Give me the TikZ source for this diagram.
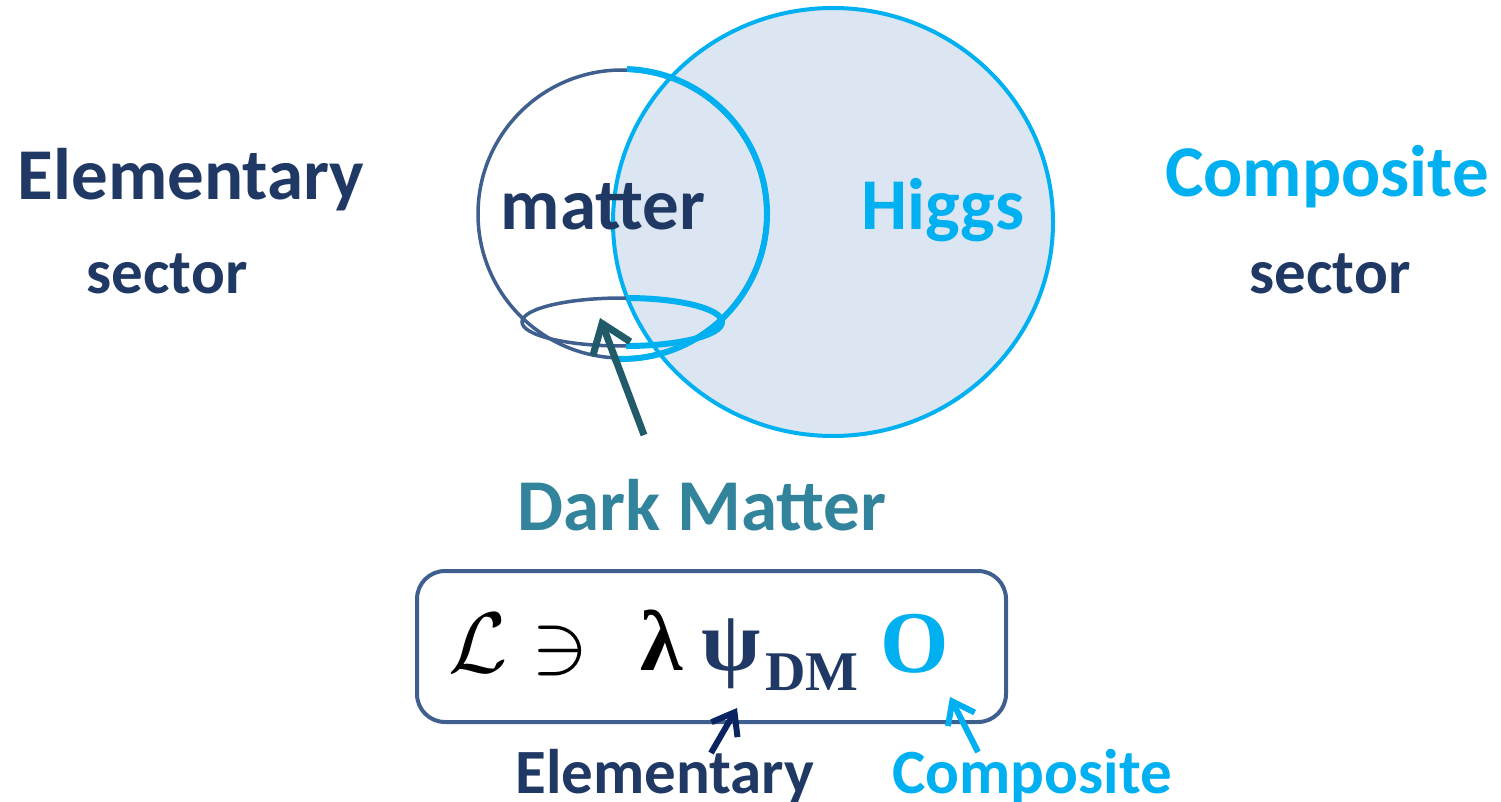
\documentclass[tikz,border=0pt]{standalone}
\usepackage{fontspec}
\setmainfont{Carlito}
\newfontfamily\timesfont{Liberation Serif}
\usepackage{tikz}
\usetikzlibrary{positioning, arrows.meta}
\definecolor{navy}{HTML}{1F3864}
\definecolor{skyblue}{HTML}{00B0F0}
\definecolor{rimblue}{HTML}{3F5F8F}
\definecolor{paleblue}{HTML}{DCE6F2}
\definecolor{darkteal}{HTML}{215A68}
\definecolor{dmteal}{HTML}{31849B}
\definecolor{deepnavy}{HTML}{0A2462}

\tikzset{
    bigword/.style={font=\fontsize{73}{80}\selectfont\bfseries, anchor=base, inner sep=0pt},
    smallword/.style={font=\fontsize{63}{70}\selectfont\bfseries, anchor=base, inner sep=0pt},
    formula/.style={anchor=base west, inner sep=0pt},
    pointer/.style={line width=6pt, -{Straight Barb[length=20pt, width=30pt, line width=6pt]}},
    bigpointer/.style={line width=7pt, -{Straight Barb[length=27pt, width=40pt, line width=7pt]}},
}

\begin{document}
\begin{tikzpicture}[x=1pt, y=1pt]
    \useasboundingbox (0,0) rectangle (1501,-802);

    % Big Higgs circle
    \draw[skyblue, fill=paleblue, line width=4pt] (833,-222) ellipse [x radius=220, y radius=214];

    % Small matter circle, thick cyan on the right half
    \draw[rimblue, line width=3.5pt] (622,-214) circle (144);
    \draw[skyblue, line width=6pt] (622,-214) ++(88:145) arc[start angle=88, end angle=-94, radius=145];

    % Dark matter ring at the bottom of the matter circle
    \draw[rimblue, line width=3.5pt] (622,-322) ellipse [x radius=100, y radius=24];
    \draw[skyblue, line width=6pt] (626,-322) ++(0,24) arc[start angle=90, end angle=-90, x radius=96, y radius=24];

    % Sector labels
    \node[bigword, navy] (elem) at (191,-200) {Elementary};
    \node[smallword, navy] (elemsec) at (167,-293) {sector};
    \node[bigword, skyblue] (comp) at (1327,-197) {Composite};
    \node[smallword, navy] (compsec) at (1330,-293) {sector};

    % Circle labels
    \node[bigword, navy] (matter) at (603,-230) {matter};
    \node[bigword, skyblue] (higgs) at (943,-230) {Higgs};
    \node[bigword, dmteal] (dm) at (702,-530) {Dark Matter};

    % Arrow to the ring
    \coordinate (dmtail) at (644,-435);
    \coordinate (ring) at (600,-318);
    \draw[darkteal, bigpointer] (dmtail) -- (ring);

    % Lagrangian box
    \draw[rimblue, line width=4pt, rounded corners=28pt] (417,-571) rectangle (1006,-722);
    \node[formula, scale=8.6] (lag) at (447,-672) {$\mathcal{L}\ni$};
    \node[formula] (lam) at (640,-670) {\fontsize{86}{90}\selectfont\timesfont\bfseries λ};
    \node[formula, navy] (psi) at (701,-670) {\fontsize{86}{90}\selectfont\timesfont\bfseries ψ};
    \node[formula, navy] (sub) at (765,-690) {\fontsize{56}{60}\selectfont\timesfont\bfseries DM};
    \node[formula, skyblue] (op) at (880,-672) {\fontsize{88}{90}\selectfont\timesfont\bfseries O};

    % Bottom labels
    \node[smallword, navy] (elemlbl) at (665,-793) {Elementary};
    \node[smallword, skyblue] (complbl) at (1032,-793) {Composite};
    \coordinate (psitip) at (737,-708);
    \coordinate (psitail) at (711,-753);
    \coordinate (optip) at (950,-697);
    \coordinate (optail) at (978,-752);
    \draw[deepnavy, pointer] (psitail) -- (psitip);
    \draw[skyblue, pointer] (optail) -- (optip);

\end{tikzpicture}
\end{document}
